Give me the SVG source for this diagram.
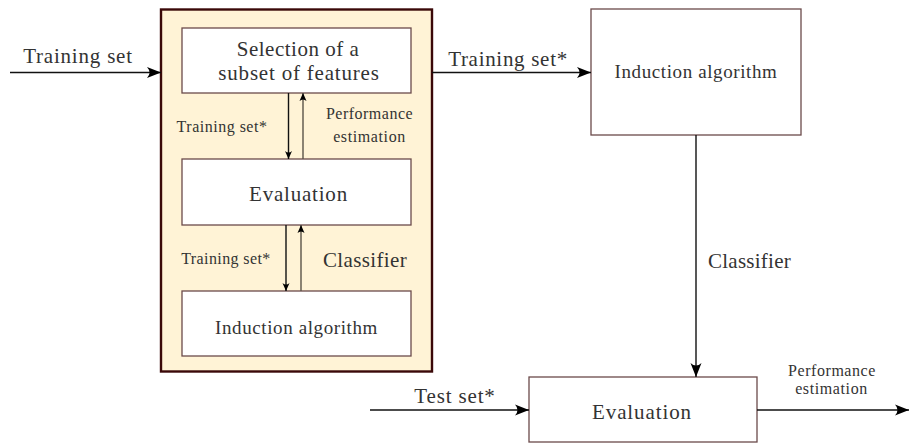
<svg xmlns="http://www.w3.org/2000/svg" width="909" height="444" viewBox="0 0 909 444" font-family="Liberation Serif, serif">
<defs>
<style>
text{fill:#333;text-anchor:middle}
.big{font-size:21px}
.mid{font-size:19px}
.sm{font-size:16px}
.box{fill:#fff;stroke:#6b4a4a;stroke-width:1.3}
.outer{fill:#fff3d6;stroke:#3a0808;stroke-width:2.4}
.ln{stroke:#111;stroke-width:1.4;fill:none}
.up{stroke:#5a5248;stroke-width:1.4;fill:none}
</style>
<marker id="big" markerUnits="userSpaceOnUse" markerWidth="16" markerHeight="12" refX="14" refY="6" orient="auto">
<path d="M0,0.5 Q5,6 0,11.5 L14,6 Z" fill="#000"/>
</marker>
<marker id="sm" markerUnits="userSpaceOnUse" markerWidth="9" markerHeight="8" refX="8" refY="4" orient="auto">
<path d="M0,0.5 Q3,4 0,7.5 L8,4 Z" fill="#000"/>
</marker>
</defs>
<g id="wrapper">
<rect class="outer" x="161" y="9.5" width="271" height="362"/>
</g>
<g id="selection" font-family="Liberation Serif">
<rect class="box" x="182" y="28" width="229" height="65"/>
<text class="big" x="298" y="56" letter-spacing="0.5">Selection of a</text>
<text class="big" x="299" y="80" letter-spacing="0.8">subset of features</text>
</g>
<g id="evaluation-inner" font-family="Liberation Serif">
<rect class="box" x="182" y="159" width="229" height="66"/>
<text class="big" x="298.5" y="201" letter-spacing="0.8">Evaluation</text>
</g>
<g id="induction-inner" font-family="Liberation Serif">
<rect class="box" x="182" y="291" width="229" height="65"/>
<text class="mid" x="296.5" y="334" letter-spacing="0.6">Induction algorithm</text>
</g>
<g id="induction" font-family="Liberation Serif">
<rect class="box" x="591" y="9" width="210" height="126"/>
<text class="mid" x="696" y="78" letter-spacing="0.6">Induction algorithm</text>
</g>
<g id="evaluation" font-family="Liberation Serif">
<rect class="box" x="529" y="377" width="228" height="65"/>
<text class="big" x="642" y="419" letter-spacing="0.9">Evaluation</text>
</g>
<g id="connectors" font-family="Liberation Serif">
<line class="ln" x1="10" y1="72.5" x2="161" y2="72.5" marker-end="url(#big)"/>
<text class="big" x="78" y="63" letter-spacing="0.8">Training set</text>
<line class="ln" x1="432" y1="72.5" x2="591" y2="72.5" marker-end="url(#big)"/>
<text class="big" x="508" y="66" letter-spacing="0.7">Training set*</text>
<line class="ln" x1="288.5" y1="93" x2="288.5" y2="159" marker-end="url(#sm)"/>
<line class="up" x1="303" y1="159" x2="303" y2="93" marker-end="url(#sm)"/>
<text class="sm" x="222" y="132" letter-spacing="0.5">Training set*</text>
<text class="sm" x="369.5" y="119" letter-spacing="0.5">Performance</text>
<text class="sm" x="369.5" y="142" letter-spacing="0.6">estimation</text>
<line class="ln" x1="286" y1="225" x2="286" y2="291" marker-end="url(#sm)"/>
<line class="up" x1="301" y1="291" x2="301" y2="225" marker-end="url(#sm)"/>
<text class="sm" x="226" y="264" letter-spacing="0.4">Training set*</text>
<text class="big" x="365" y="267" letter-spacing="0.35">Classifier</text>
<line class="ln" x1="696" y1="135" x2="696" y2="377" marker-end="url(#big)"/>
<text class="big" x="749.5" y="268" letter-spacing="0.25">Classifier</text>
<line class="ln" x1="370" y1="410" x2="529" y2="410" marker-end="url(#big)"/>
<text class="big" x="455" y="403" letter-spacing="0.85">Test set*</text>
<line class="ln" x1="757" y1="410" x2="909" y2="410" marker-end="url(#big)"/>
<text class="sm" x="832" y="376" letter-spacing="0.55">Performance</text>
<text class="sm" x="831.5" y="394" letter-spacing="0.6">estimation</text>
</g>
</svg>
